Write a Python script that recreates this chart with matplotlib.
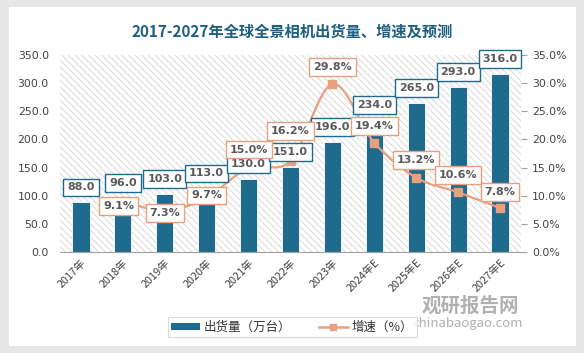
import numpy as np
import matplotlib
matplotlib.use('Agg')
import matplotlib.pyplot as plt
from matplotlib.patches import Rectangle, PathPatch
from matplotlib.path import Path
from matplotlib.lines import Line2D

plt.rcParams['font.family'] = ['Noto Sans CJK SC', 'DejaVu Sans']
plt.rcParams['hatch.color'] = '#d0d0d0'
plt.rcParams['hatch.linewidth'] = 0.6

# 数据
years = ['2017年', '2018年', '2019年', '2020年', '2021年', '2022年', '2023年',
         '2024年E', '2025年E', '2026年E', '2027年E']
shipments = [88.0, 96.0, 103.0, 113.0, 130.0, 151.0, 196.0, 234.0, 265.0, 293.0, 316.0]
growth = [None, 9.1, 7.3, 9.7, 15.0, 16.2, 29.8, 19.4, 13.2, 10.6, 7.8]

bar_color = '#1f6b8e'
line_color = '#e8a07e'
text_color = '#595959'
num_font = ['DejaVu Sans']

fig = plt.figure(figsize=(5.84, 3.53), dpi=100, facecolor='#e6e6e6')
fig.patches.append(Rectangle((9/584, 1-346/353), 567/584, 339/353, transform=fig.transFigure,
                             facecolor='white', edgecolor='none', zorder=-10))

ax = fig.add_axes([60/584, 1-252/353, 461/584, 197/353])
ax.set_facecolor('white')
ax.patch.set_hatch('\\\\\\\\\\')
ax.patch.set_edgecolor('#d4d4d4')
ax.patch.set_linewidth(0)

x = np.arange(len(years))
ax.bar(x, shipments, width=0.41, color=bar_color, edgecolor='white', linewidth=0.6, zorder=2)
ax.set_xlim(-0.5, len(years) - 0.5)
ax.set_ylim(0, 350)
ax.set_yticks(np.arange(0, 351, 50))
ax.set_yticklabels([f'{v:.1f}' for v in np.arange(0, 351, 50)], family=num_font)
ax.set_xticks(x)
ax.set_xticklabels(years, rotation=45, ha='right', va='top', rotation_mode='anchor')
ax.tick_params(axis='y', length=0, labelsize=7.8, colors='#404040', pad=8)
ax.tick_params(axis='x', length=0, labelsize=7.8, colors='#404040', pad=4)
for s in ['top', 'right', 'left']:
    ax.spines[s].set_visible(False)
ax.spines['bottom'].set_color('#a0a0a0')

ax2 = ax.twinx()
ax2.set_ylim(0, 35)
ax2.set_yticks(np.arange(0, 36, 5))
ax2.set_yticklabels([f'{v:.1f}%' for v in np.arange(0, 36, 5)], family=num_font)
ax2.tick_params(axis='y', length=4, direction='out', labelsize=7.8, colors='#404040', pad=4)
ax2.tick_params(axis='y', color='#a0a0a0')
for s in ['top', 'left', 'bottom', 'right']:
    ax2.spines[s].set_visible(False)

gx = np.array([xi for xi, g in zip(x, growth) if g is not None], dtype=float)
gy = np.array([g for g in growth if g is not None], dtype=float)

# smooth line (Catmull-Rom as cubic bezier)
verts = [(gx[0], gy[0])]
codes = [Path.MOVETO]
n = len(gx)
for i in range(n - 1):
    p0 = np.array([gx[max(i - 1, 0)], gy[max(i - 1, 0)]])
    p1 = np.array([gx[i], gy[i]])
    p2 = np.array([gx[i + 1], gy[i + 1]])
    p3 = np.array([gx[min(i + 2, n - 1)], gy[min(i + 2, n - 1)]])
    c1 = p1 + (p2 - p0) / 6
    c2 = p2 - (p3 - p1) / 6
    verts += [tuple(c1), tuple(c2), tuple(p2)]
    codes += [Path.CURVE4] * 3
ax2.add_patch(PathPatch(Path(verts, codes), fc='none', ec=line_color, lw=1.6, zorder=3))
ax2.plot(gx, gy, ls='none', marker='s', ms=6, color=line_color, zorder=4)

# bar labels (above the line, below the growth labels)
for xi, v in zip(x, shipments):
    ax2.annotate(f'{v:.1f}', (xi, v), xycoords=ax.transData, xytext=(0, 15),
                 textcoords='offset pixels', ha='center', va='center', fontsize=8,
                 fontweight='bold', color=text_color, family=num_font,
                 bbox=dict(boxstyle='square,pad=0.35', fc='white', ec=bar_color, lw=1), zorder=5)

offsets = [(-4, -5), (0, -2), (0, 2), (0, 18), (0, 30), (0, 17), (0, 17), (0, 18), (0, 17), (0, 16)]
for xi, g, off in zip(gx, gy, offsets):
    ax2.annotate(f'{g:.1f}%', (xi, g), xytext=off, textcoords='offset pixels',
                 ha='center', va='center', fontsize=8, fontweight='bold', color=text_color,
                 family=num_font,
                 bbox=dict(boxstyle='square,pad=0.35', fc='white', ec=line_color, lw=1), zorder=6)

fig.text(292/584, 1-32/353, '2017-2027年全球全景相机出货量、增速及预测', ha='center', va='center',
         fontsize=11, fontweight='bold', color='#1d5f80')

handles = [Rectangle((0, 0), 1, 1, fc=bar_color),
           Line2D([], [], color=line_color, marker='s', ms=5, lw=1.8)]
leg = fig.legend(handles, ['出货量（万台）', '增速（%）'], loc='center', ncol=2,
                 bbox_to_anchor=(292/584, 1-327/353), fontsize=9, frameon=True,
                 fancybox=False, edgecolor='#d0d0d0', handlelength=2.3, handleheight=0.5,
                 handletextpad=0.3, columnspacing=2.2, borderpad=0.3)
leg.get_frame().set_linewidth(0.8)
for t in leg.get_texts():
    t.set_color('#333333')

fig.text(470/584, 1-306/353, '观研报告网', ha='center', va='center', fontsize=14,
         fontweight='bold', color='#b0b0b0', zorder=1)
fig.text(468/584, 1-323/353, 'chinabaogao.com', ha='center', va='center', fontsize=9.5,
         color='#b0b0b0', zorder=1)

fig.savefig('out.png', dpi=100, facecolor=fig.get_facecolor())
